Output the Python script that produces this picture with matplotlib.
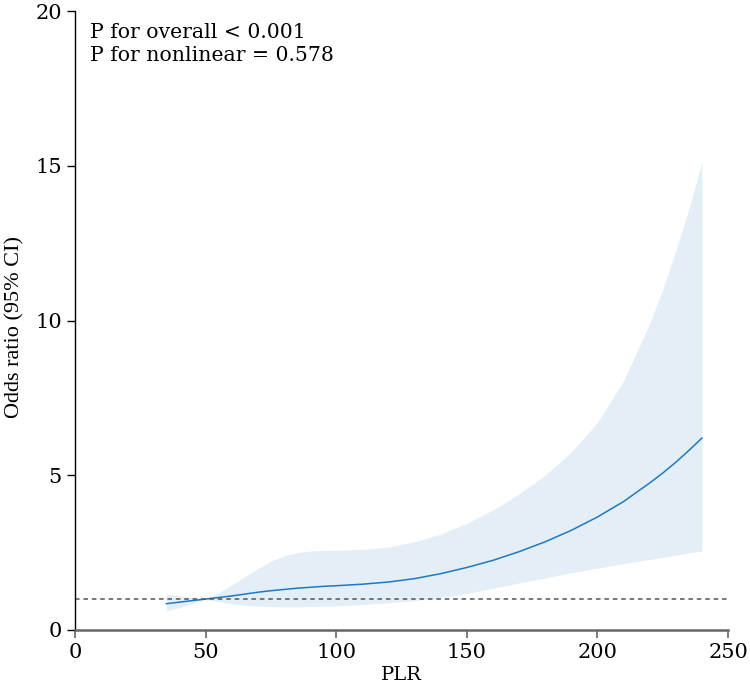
import matplotlib
matplotlib.use('Agg')
import matplotlib.pyplot as plt

plt.rcParams['font.family'] = ['DejaVu Serif']

# PLR values and estimated odds ratio with 95% CI
plr = [35, 40, 45, 50, 55, 60, 65, 70, 75, 80, 85, 90, 95, 100, 110, 120,
       130, 140, 150, 160, 170, 180, 190, 200, 210, 220, 225, 230, 235, 240]
odds = [0.85, 0.90, 0.95, 1.00, 1.05, 1.10, 1.16, 1.22, 1.27, 1.31, 1.35, 1.38,
        1.41, 1.43, 1.48, 1.55, 1.66, 1.82, 2.02, 2.25, 2.53, 2.85, 3.22, 3.65,
        4.15, 4.75, 5.07, 5.42, 5.80, 6.20]
ci_upper = [1.16, 1.10, 1.05, 1.03, 1.20, 1.45, 1.72, 1.98, 2.22, 2.40, 2.50, 2.55,
            2.57, 2.58, 2.60, 2.68, 2.85, 3.10, 3.45, 3.88, 4.40, 5.00, 5.75, 6.70,
            8.05, 9.90, 11.0, 12.25, 13.6, 15.1]
ci_lower = [0.62, 0.72, 0.86, 0.98, 0.92, 0.85, 0.80, 0.77, 0.76, 0.75, 0.75, 0.76,
            0.77, 0.78, 0.82, 0.88, 0.95, 1.05, 1.18, 1.35, 1.52, 1.68, 1.85, 2.00,
            2.15, 2.28, 2.35, 2.42, 2.49, 2.55]

p_overall = "P for overall < 0.001"
p_nonlinear = "P for nonlinear = 0.578"

fig = plt.figure(figsize=(7.5, 6.85), dpi=100)
ax = fig.add_axes([0.1, 0.0803, 0.8707, 0.9036])

ax.fill_between(plr, ci_lower, ci_upper, color='#e3eef7', linewidth=0)
ax.plot(plr, odds, color='#1f78c1', linewidth=1.1)
ax.axhline(1, color='#555555', linestyle=(0, (3, 2.5)), linewidth=1.1)

ax.set_xlim(0, 250)
ax.set_ylim(0, 20)
ax.set_xticks([0, 50, 100, 150, 200, 250])
ax.set_yticks([0, 5, 10, 15, 20])

for s in ['top', 'right']:
    ax.spines[s].set_visible(False)
ax.spines['left'].set_color('black')
ax.spines['left'].set_linewidth(1.0)
ax.spines['bottom'].set_color('#666666')
ax.spines['bottom'].set_linewidth(1.8)
ax.tick_params(axis='x', colors='#666666', length=6, width=1.2, labelsize=15,
               labelcolor='black')
ax.tick_params(axis='y', length=6, width=1.0, labelsize=15)

# axis titles
fig.text(401 / 750, 5 / 685, 'PLR', fontsize=14, ha='center', va='baseline')
fig.text(15 / 750, 1 - 327 / 685, 'Odds ratio (95% CI)', fontsize=16,
         family='Liberation Serif', rotation=90, ha='center', va='center')

ax.text(5.7, 19.13, p_overall, fontsize=14.7, ha='left', va='baseline')
ax.text(5.7, 18.39, p_nonlinear, fontsize=14.7, ha='left', va='baseline')

fig.savefig('out.png', dpi=100)
